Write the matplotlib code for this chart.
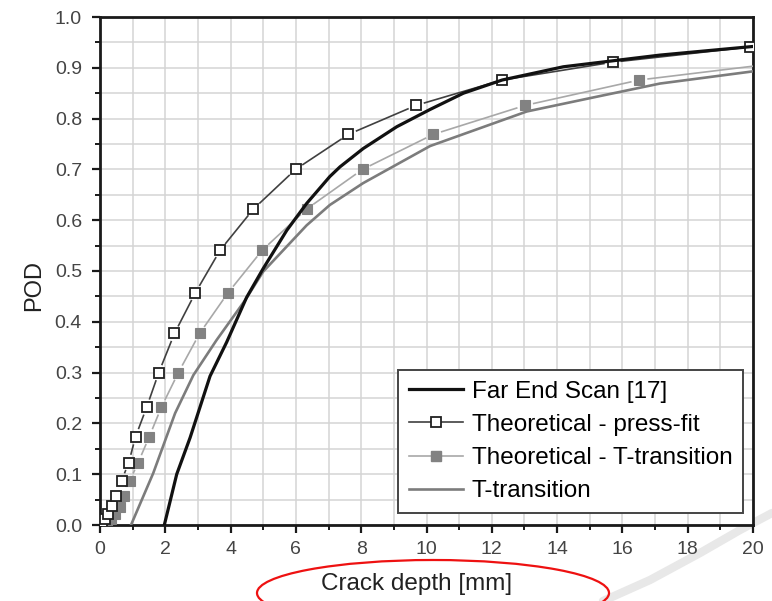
import numpy as np
import matplotlib
matplotlib.use("Agg")
import matplotlib.pyplot as plt
from matplotlib.collections import LineCollection
from matplotlib.lines import Line2D
from matplotlib.patches import Ellipse
from matplotlib.ticker import MultipleLocator

plt.rcParams['font.family'] = ['Liberation Sans', 'DejaVu Sans']

# POD curves vs crack depth
far_end_x = [1.97, 2.35, 2.76, 3.37, 3.88, 4.49, 5.0, 5.72, 6.33, 7.04, 7.35, 8.06,
             9.09, 10.11, 11.13, 12.32, 14.19, 17.15, 20.0]
far_end_y = [0.0, 0.100, 0.172, 0.293, 0.360, 0.448, 0.505, 0.580, 0.633, 0.686, 0.705, 0.741,
             0.784, 0.818, 0.850, 0.876, 0.902, 0.925, 0.942]

t_trans_x = [0.95, 1.63, 2.30, 2.86, 3.57, 4.45, 5.0, 6.33, 7.04, 8.06, 10.11, 13.07,
             15.21, 17.15, 20.0]
t_trans_y = [0.0, 0.102, 0.220, 0.295, 0.364, 0.443, 0.499, 0.590, 0.630, 0.673, 0.746, 0.814,
             0.843, 0.869, 0.893]

press_fit_x = [0.07, 0.15, 0.25, 0.36, 0.49, 0.66, 0.88, 1.09, 1.43, 1.80, 2.28, 2.92,
               3.68, 4.70, 5.99, 7.61, 9.68, 12.32, 15.70, 19.91]
press_fit_y = [0.005, 0.012, 0.022, 0.037, 0.058, 0.087, 0.123, 0.174, 0.232, 0.300, 0.377, 0.457,
               0.541, 0.622, 0.700, 0.769, 0.826, 0.876, 0.911, 0.941]

theo_t_x = [0.20, 0.33, 0.47, 0.60, 0.72, 0.91, 1.17, 1.51, 1.88, 2.40, 3.05, 3.92,
            4.97, 6.33, 8.04, 10.21, 13.02, 16.52, 21.0]
theo_t_y = [0.005, 0.012, 0.022, 0.036, 0.058, 0.087, 0.123, 0.174, 0.232, 0.300, 0.377, 0.457,
            0.541, 0.622, 0.700, 0.769, 0.826, 0.876, 0.911]

labels = ['Far End Scan [17]', 'Theoretical - press-fit',
          'Theoretical - T-transition', 'T-transition']

W, H = 772, 601
fig = plt.figure(figsize=(W / 100, H / 100), dpi=100)
ax = fig.add_axes([100 / W, 1 - 525 / H, 653 / W, 508 / H])
ax.set_xlim(0, 20)
ax.set_ylim(0, 1.0)


def gapped_line(ax, xs, ys, gap, **kw):
    # Origin-style connector: segments stop short of the symbols
    pts = ax.transData.transform(np.column_stack([xs, ys]))
    inv = ax.transData.inverted()
    segs = []
    for p0, p1 in zip(pts[:-1], pts[1:]):
        d = p1 - p0
        n = np.hypot(*d)
        if n <= 2 * gap:
            continue
        u = d / n
        segs.append(inv.transform(np.array([p0 + u * gap, p1 - u * gap])))
    ax.add_collection(LineCollection(segs, **kw))


ax.plot(t_trans_x, t_trans_y, color='#7c7c7c', lw=1.9, zorder=3)
gapped_line(ax, theo_t_x, theo_t_y, 8, colors='#a8a8a8', linewidths=1.2, zorder=3)
ax.plot(theo_t_x, theo_t_y, ls='none', marker='s', ms=7.5, mfc='#828282', mec='#828282',
        mew=0.8, zorder=4)
gapped_line(ax, press_fit_x, press_fit_y, 8, colors='#404040', linewidths=1.2, zorder=5)
ax.plot(press_fit_x, press_fit_y, ls='none', marker='s', ms=7.5, mfc='white', mec='#202020',
        mew=1.3, zorder=6)
ax.plot(far_end_x, far_end_y, color='#111111', lw=2.3, zorder=7)

# axes styling
ax.xaxis.set_major_locator(MultipleLocator(2))
ax.xaxis.set_minor_locator(MultipleLocator(1))
ax.yaxis.set_major_locator(MultipleLocator(0.1))
ax.yaxis.set_minor_locator(MultipleLocator(0.05))
ax.yaxis.set_major_formatter(matplotlib.ticker.FormatStrFormatter('%.1f'))
ax.grid(True, which='both', color='#d4d4d4', lw=1.1, zorder=0)
ax.set_axisbelow(True)
for s in ax.spines.values():
    s.set_linewidth(2.0)
    s.set_color('#1a1a1a')
ax.tick_params(which='major', direction='out', length=5.5, width=1.6, colors='#1a1a1a',
               labelcolor='#444444', labelsize=14, top=False, right=False)
ax.tick_params(which='minor', direction='out', length=3.5, width=1.4, colors='#1a1a1a',
               top=False, right=False)
ax.tick_params(axis='x', which='major', pad=6)
ax.tick_params(axis='y', which='major', pad=7.5)

ax.set_xlabel('Crack depth [mm]', fontsize=17.5, color='#222222')
ax.xaxis.set_label_coords(0.4855, -0.0945)
ax.set_ylabel('POD', fontsize=17, color='#222222', va='center')
ax.yaxis.set_label_coords(-0.1012, 0.472)

handles = [
    Line2D([], [], color='#111111', lw=2.3),
    Line2D([], [], color='#404040', lw=1.2, marker='s', ms=7.5, mfc='white', mec='#202020', mew=1.3),
    Line2D([], [], color='#a8a8a8', lw=1.2, marker='s', ms=7.5, mfc='#828282', mec='#828282'),
    Line2D([], [], color='#7c7c7c', lw=1.9),
]
leg = ax.legend(handles, labels, loc='lower right', bbox_to_anchor=(0.985, 0.023),
                borderaxespad=0, fontsize=17.5, handlelength=2.2, handletextpad=0.36,
                labelspacing=0.46, borderpad=0.45, fancybox=False, framealpha=1,
                edgecolor='#444444')
leg.get_frame().set_linewidth(1.4)
leg.set_zorder(10)

# red ellipse around the axis title and the faint swoosh at the bottom right
fig.add_artist(Ellipse((433 / W, 1 - 593 / H), 352 / W, 66 / H, transform=fig.transFigure,
                       fill=False, edgecolor='#ee1111', lw=1.6, zorder=20))
sw_x = np.array([603, 650, 700, 740, 772]) / W
sw_y = 1 - np.array([601, 580, 553, 530, 513]) / H
fig.add_artist(Line2D(sw_x, sw_y, transform=fig.transFigure, color='#e8e8e8', lw=6,
                      solid_capstyle='round', zorder=-1))

fig.savefig('out.png', dpi=100)
